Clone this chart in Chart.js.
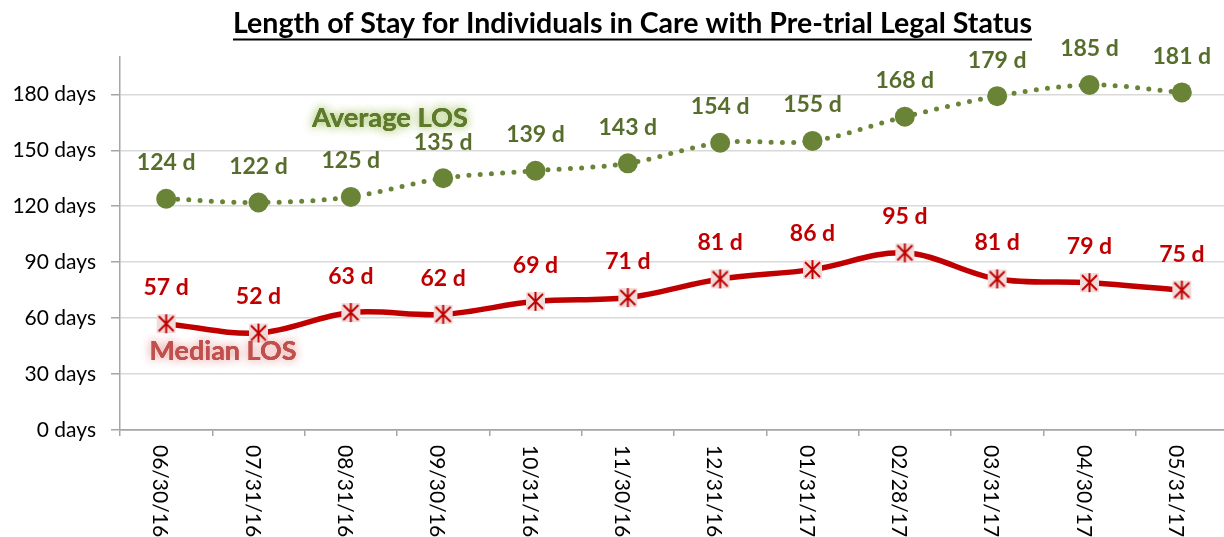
<!DOCTYPE html>
<html>
<head>
<meta charset="utf-8">
<script src="https://cdn.jsdelivr.net/npm/chart.js@4.4.0/dist/chart.umd.min.js"></script>
<style>
  html, body { margin: 0; padding: 0; background: #fff; overflow: hidden; }
  canvas { display: block; }
</style>
</head>
<body>
<canvas id="c" width="1228" height="537"></canvas>
<script>
const categories = ['06/30/16','07/31/16','08/31/16','09/30/16','10/31/16','11/30/16','12/31/16','01/31/17','02/28/17','03/31/17','04/30/17','05/31/17'];
const averageLOS = [124,122,125,135,139,143,154,155,168,179,185,181];
const medianLOS  = [57,52,63,62,69,71,81,86,95,81,79,75];
const yTickValues = [0,30,60,90,120,150,180];
const titleText = 'Length of Stay for Individuals in Care with Pre-trial Legal Status';
const avgName = 'Average LOS';
const medName = 'Median LOS';

const GREEN = '#6A8437';
const GREEN_LABEL = '#566D2B';
const RED = '#C00000';

// Excel-like star marker: pink square with X and vertical bar
function makeStarMarker() {
  const s = 21;
  const cv = document.createElement('canvas');
  cv.width = s; cv.height = s;
  const c = cv.getContext('2d');
  c.fillStyle = '#F2DCDB';
  c.fillRect(1, 1, s - 2, s - 2);
  c.strokeStyle = RED;
  c.lineWidth = 2;
  c.beginPath();
  c.moveTo(3, 3); c.lineTo(s - 3, s - 3);
  c.moveTo(s - 3, 3); c.lineTo(3, s - 3);
  c.moveTo(s / 2, 1); c.lineTo(s / 2, s - 1);
  c.stroke();
  return cv;
}
const starMarker = makeStarMarker();

function fitFont(ctx, text, weight, family, targetWidth) {
  ctx.font = weight + ' 100px ' + family;
  const w = ctx.measureText(text).width;
  return 100 * targetWidth / w;
}

const overlayPlugin = {
  id: 'overlay',
  afterDatasetsDraw(chart) {
    const ctx = chart.ctx;
    const drawGlow = (text, cx, cy, width, color, glow) => {
      const size = fitFont(ctx, text, 'bold', 'Lato', width);
      ctx.save();
      ctx.font = 'bold ' + size.toFixed(2) + 'px Lato';
      ctx.textAlign = 'center';
      ctx.textBaseline = 'middle';
      ctx.shadowColor = glow;
      ctx.shadowBlur = 10;
      ctx.fillStyle = color;
      for (let k = 0; k < 2; k++) ctx.fillText(text, cx, cy);
      ctx.shadowBlur = 0;
      ctx.fillText(text, cx, cy);
      ctx.restore();
    };
    drawGlow(avgName, 390, 118, 156, '#5E7A2C', 'rgba(170,200,110,0.85)');
    drawGlow(medName, 223, 351, 147, '#C0504D', 'rgba(235,170,170,0.85)');

    // data labels
    ctx.save();
    ctx.font = 'bold 23px Lato';
    ctx.textAlign = 'center';
    ctx.textBaseline = 'middle';
    const series = [[0, GREEN_LABEL], [1, RED]];
    series.forEach(([di, col]) => {
      const meta = chart.getDatasetMeta(di);
      const data = chart.data.datasets[di].data;
      ctx.fillStyle = col;
      meta.data.forEach((pt, i) => {
        ctx.fillText(data[i] + ' d', pt.x, pt.y - 36);
      });
    });
    ctx.restore();
  },
  afterDraw(chart) {
    const ctx = chart.ctx;
    const size = fitFont(ctx, titleText, 'bold', 'Lato', 799);
    ctx.save();
    ctx.font = 'bold ' + size.toFixed(2) + 'px Lato';
    ctx.fillStyle = '#000';
    ctx.textAlign = 'center';
    ctx.textBaseline = 'alphabetic';
    ctx.fillText(titleText, 632.5, 33);
    const w = ctx.measureText(titleText).width;
    ctx.fillRect(632.5 - w / 2, 38.5, w, 2);
    ctx.restore();

    const xs = chart.scales.x;
    ctx.save();
    ctx.font = '21px Lato';
    ctx.fillStyle = '#000';
    ctx.textAlign = 'left';
    ctx.textBaseline = 'middle';
    categories.forEach((lab, i) => {
      const x = xs.getPixelForValue(i) - 6;
      ctx.save();
      ctx.translate(x, 445);
      ctx.rotate(Math.PI / 2);
      ctx.fillText(lab, 0, 0);
      ctx.restore();
    });
    ctx.restore();
  }
};

new Chart(document.getElementById('c'), {
  type: 'line',
  data: {
    labels: categories,
    datasets: [
      {
        label: avgName,
        data: averageLOS,
        borderColor: GREEN,
        backgroundColor: GREEN,
        borderWidth: 5,
        borderDash: [0, 11.3],
        borderCapStyle: 'round',
        tension: 0.35,
        pointStyle: 'circle',
        pointRadius: 10,
        pointHoverRadius: 10,
        pointBackgroundColor: GREEN,
        pointBorderColor: GREEN,
        pointBorderWidth: 0,
        fill: false
      },
      {
        label: medName,
        data: medianLOS,
        borderColor: RED,
        backgroundColor: RED,
        borderWidth: 5.5,
        tension: 0.35,
        pointStyle: starMarker,
        pointRadius: 10,
        pointHoverRadius: 10,
        fill: false
      }
    ]
  },
  options: {
    responsive: false,
    animation: false,
    devicePixelRatio: 1,
    layout: { autoPadding: false, padding: { top: 57, left: 0, right: 0, bottom: 0 } },
    plugins: {
      legend: { display: false },
      title: { display: false },
      tooltip: { enabled: false }
    },
    scales: {
      x: {
        offset: true,
        grid: {
          offset: true,
          drawOnChartArea: false,
          drawTicks: true,
          tickLength: 6,
          tickColor: '#A6A6A6',
          tickWidth: 1.5,
          color: '#A6A6A6',
          lineWidth: 1.5
        },
        border: { color: '#A6A6A6', width: 1.5 },
        ticks: { display: false },
        afterFit(s) { s.height = 107; }
      },
      y: {
        min: 0,
        max: 200,
        afterBuildTicks(s) {
          s.ticks = yTickValues.map(v => ({ value: v }));
        },
        grid: {
          color: c => (c.tick && c.tick.value === 0) ? '#A6A6A6' : '#D9D9D9',
          lineWidth: 1.5,
          tickLength: 9,
          tickColor: '#A6A6A6',
          tickWidth: 1.5
        },
        border: { color: '#A6A6A6', width: 1.5 },
        ticks: {
          padding: 15,
          color: '#000',
          font: { family: 'Lato', size: 21 },
          callback: v => v + ' days'
        },
        afterFit(s) { s.width = 120; }
      }
    }
  },
  plugins: [overlayPlugin]
});
</script>
</body>
</html>
